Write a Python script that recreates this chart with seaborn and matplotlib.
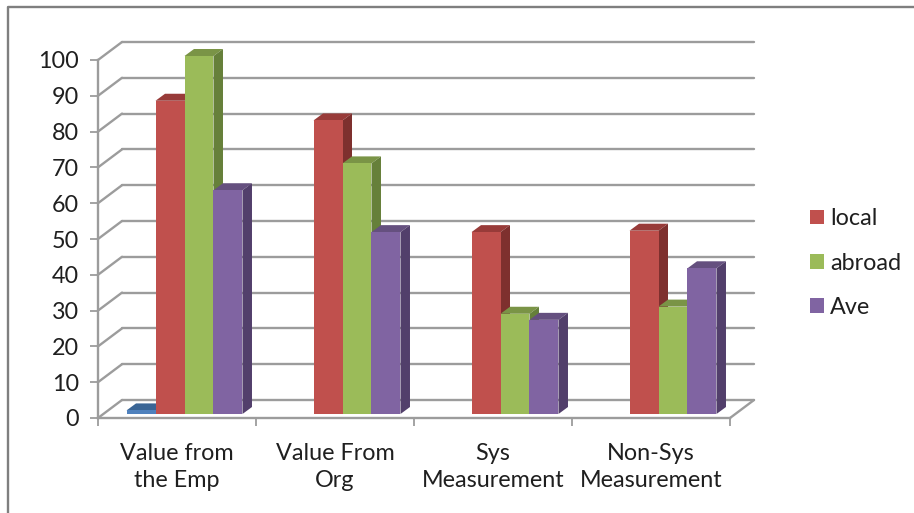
import pandas as pd
import numpy as np
import seaborn as sns
import matplotlib.pyplot as plt
from matplotlib.patches import Polygon, Patch
from matplotlib.lines import Line2D
from matplotlib.transforms import Affine2D, IdentityTransform

categories = ["Value from\nthe Emp", "Value From\nOrg", "Sys\nMeasurement", "Non-Sys\nMeasurement"]
series_names = ["blank", "local", "abroad", "Ave"]
blank = [1, np.nan, np.nan, np.nan]
local = [87.5, 82, 50.8, 51.2]
abroad = [100, 70, 28, 30]
ave = [62.5, 50.8, 26.3, 40.7]

front_colours = ["#4F81BD", "#C0504D", "#9BBB59", "#8064A2"]
top_colours = ["#3A6595", "#983B39", "#7A9446", "#65507F"]
side_colours = ["#2F5078", "#7E302E", "#66803A", "#523F6B"]
grid_colour = "#9C9C9C"
text_colour = "#1F1F1F"

W, H = 914, 513
left, right, y0, y100 = 98, 730, 418, 60

sns.set_theme(style="white")
plt.rcParams['font.family'] = ['Lato', 'DejaVu Sans']

fig = plt.figure(figsize=(W / 100, H / 100), dpi=100)
ax = fig.add_axes([left / W, (H - y0) / H, (right - left) / W, (y0 - y100) / H])

df = pd.DataFrame({"category": categories, "blank": blank, "local": local, "abroad": abroad, "Ave": ave})
long_df = df.melt(id_vars="category", var_name="series", value_name="value").dropna()

sns.barplot(
    data=long_df,
    x="category",
    y="value",
    hue="series",
    order=categories,
    hue_order=series_names,
    palette=front_colours,
    saturation=1,
    width=0.734,
    linewidth=0,
    legend=False,
    ax=ax
)
ax.set_xlim(-0.5, 3.5)
ax.set_ylim(0, 100)
ax.set_xlabel("")
ax.set_ylabel("")
ax.patch.set_alpha(0)

# back wall, floor and the slanted lines that join them
wall_dx, wall_dy = 24, 18
wall = ax.transData + Affine2D().translate(wall_dx, wall_dy)
ticks = np.arange(0, 101, 10)
for t in ticks:
    ax.plot([-0.5, 3.5], [t, t], color=grid_colour, lw=1.7, transform=wall, clip_on=False, zorder=1)
    p = ax.transData.transform((-0.5, t))
    ax.add_line(Line2D([p[0], p[0] + wall_dx], [p[1], p[1] + wall_dy], color=grid_colour, lw=1.7,
                       transform=IdentityTransform(), clip_on=False, zorder=1))
p = ax.transData.transform((3.5, 0))
ax.add_line(Line2D([p[0], p[0] + wall_dx], [p[1], p[1] + wall_dy], color=grid_colour, lw=1.7,
                   transform=IdentityTransform(), clip_on=False, zorder=1))

# fake 3d: shift the bars off the floor edge and give them a top and side face
shift_x, shift_y = 7.5, 4
depth_x, depth_y = 9.5, 7
bars = []
for i, container in enumerate(ax.containers):
    for bar in container:
        bars.append((bar.get_x(), bar, i))
bars.sort(key=lambda b: b[0])

z = 3
for x, bar, i in bars:
    h = bar.get_height()
    x0, y_bottom = ax.transData.transform((x, 0)) + (shift_x, shift_y)
    x1, y_top = ax.transData.transform((x + bar.get_width(), h)) + (shift_x, shift_y)
    top = [(x0, y_top), (x1, y_top), (x1 + depth_x, y_top + depth_y), (x0 + depth_x, y_top + depth_y)]
    side = [(x1, y_bottom), (x1 + depth_x, y_bottom + depth_y), (x1 + depth_x, y_top + depth_y), (x1, y_top)]
    ax.add_patch(Polygon(top, closed=True, fc=top_colours[i], lw=0, transform=IdentityTransform(), clip_on=False, zorder=z))
    ax.add_patch(Polygon(side, closed=True, fc=side_colours[i], lw=0, transform=IdentityTransform(), clip_on=False, zorder=z))
    bar.set_transform(ax.transData + Affine2D().translate(shift_x, shift_y))
    bar.set_clip_on(False)
    bar.set_zorder(z + 1)
    z += 2

sns.despine(ax=ax, top=True, right=True)
for side_name in ["left", "bottom"]:
    ax.spines[side_name].set_color(grid_colour)
    ax.spines[side_name].set_linewidth(1.7)
    ax.spines[side_name].set_zorder(2)

ax.set_yticks(ticks)
ax.tick_params(axis="y", length=5.8, width=1.3, color=grid_colour, pad=8, labelsize=16.8, labelcolor=text_colour, left=True)
ax.set_xticks(range(len(categories)))
ax.set_xticklabels(categories, linespacing=1.36)
ax.tick_params(axis="x", which="major", length=0, pad=18.2, labelsize=16.8, labelcolor=text_colour)
ax.set_xticks(np.arange(-0.5, 3.6, 1), minor=True)
ax.tick_params(axis="x", which="minor", length=5.8, width=1.3, color=grid_colour, bottom=True)

handles = [Patch(fc=c, lw=0) for c in front_colours[1:]]
fig.legend(handles, series_names[1:], loc="center left", bbox_to_anchor=(803 / W, (H - 263) / H), frameon=False,
           fontsize=16.8, handlelength=0.6, handleheight=0.6, handletextpad=0.26, labelspacing=1.0,
           labelcolor=text_colour, borderpad=0, borderaxespad=0.3)

# outer chart border, cropped at the bottom and right of the picture
fig.add_artist(Line2D([8 / W, 8 / W, 1], [0, 1 - 7 / H, 1 - 7 / H], color="#7F7F7F", lw=1.7))

fig.savefig("out.png", dpi=100)
